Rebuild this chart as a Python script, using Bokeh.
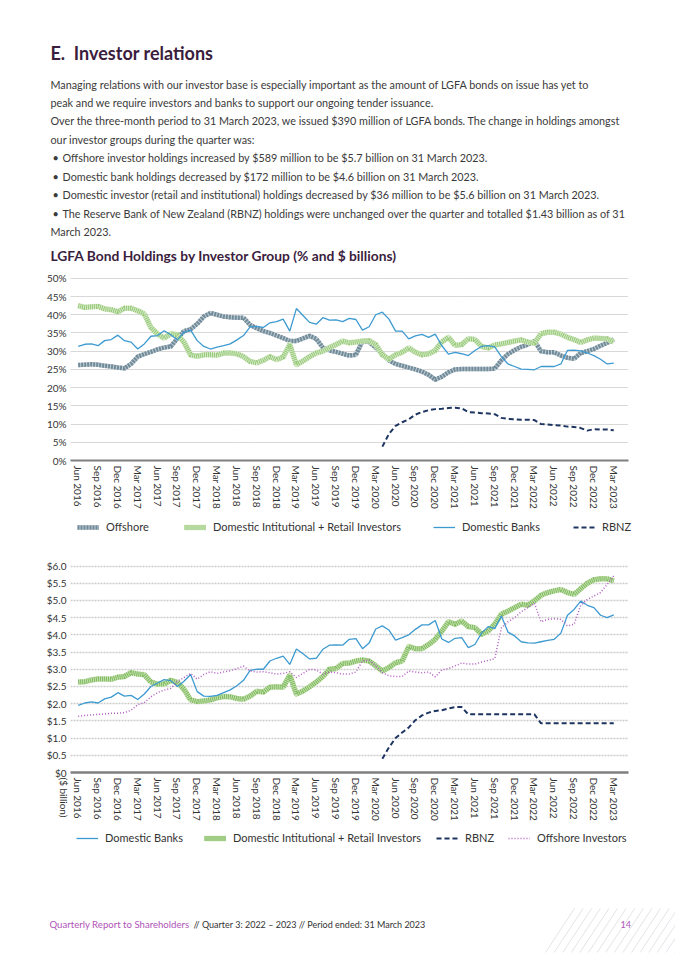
import math
from bokeh.plotting import figure
from bokeh.models import Range1d, FixedTicker, Legend, LegendItem, Plot
from bokeh.layouts import column
from bokeh.embed import file_html
from bokeh.resources import INLINE
from bokeh.core.properties import value

# ---------------- data ----------------
TICK_LABELS = ["Jun 2016", "Sep 2016", "Dec 2016", "Mar 2017", "Jun 2017", "Sep 2017", "Dec 2017",
               "Mar 2018", "Jun 2018", "Sep 2018", "Dec 2018", "Mar 2019", "Jun 2019", "Sep 2019",
               "Dec 2019", "Mar 2020", "Jun 2020", "Sep 2020", "Dec 2020", "Mar 2021", "Jun 2021",
               "Sep 2021", "Dec 2021", "Mar 2022", "Jun 2022", "Sep 2022", "Dec 2022", "Mar 2023"]
MONTHS = list(range(82))          # monthly index, 0 = Jun 2016 ... 81 = Mar 2023
RBNZ_MONTHS = list(range(46, 82))  # RBNZ holdings start Apr 2020

OFFSHORE_PCT = [26.2, 26.3, 26.4, 26.3, 26.0, 25.8, 25.5, 25.3, 26.5, 28.5,
                29.2, 29.8, 30.5, 31.0, 31.3, 33.5, 35.5, 36.0, 37.5, 39.5,
                40.5, 40.0, 39.5, 39.3, 39.2, 39.2, 37.2, 36.3, 35.5, 35.0,
                34.3, 33.6, 32.8, 32.8, 33.5, 34.2, 33.4, 31.0, 30.2, 29.8,
                29.3, 28.8, 29.0, 32.8, 32.5, 31.0, 29.3, 27.5, 26.5, 26.0,
                25.5, 25.0, 24.4, 23.5, 22.2, 23.0, 24.2, 25.0, 25.1, 25.1,
                25.1, 25.1, 25.1, 25.2, 27.5, 29.2, 30.3, 31.2, 31.8, 32.8,
                30.0, 29.7, 29.7, 28.8, 28.2, 27.9, 29.5, 30.0, 30.6, 31.5,
                32.3, 33.2]
DOMESTIC_INV_PCT = [42.5, 42.0, 42.2, 42.3, 41.6, 41.4, 40.8, 41.8, 41.8, 41.1,
                    40.2, 36.5, 34.7, 33.6, 34.8, 34.5, 32.5, 29.0, 28.6, 29.0,
                    29.0, 28.9, 29.5, 29.5, 29.3, 28.5, 27.2, 26.8, 27.5, 28.5,
                    27.7, 28.4, 31.8, 26.3, 27.3, 28.5, 29.5, 30.0, 31.0, 31.8,
                    32.8, 32.3, 32.5, 32.8, 32.9, 31.8, 29.0, 27.8, 29.0, 29.7,
                    30.9, 29.7, 29.0, 29.3, 30.2, 32.6, 33.8, 31.6, 31.8, 33.4,
                    33.2, 31.3, 30.9, 31.7, 32.0, 32.4, 32.8, 33.1, 32.5, 32.2,
                    34.8, 35.2, 35.2, 34.7, 33.8, 33.2, 32.4, 33.1, 33.6, 33.5,
                    33.4, 32.5]
BANKS_PCT = [31.3, 31.9, 32.0, 31.5, 32.9, 33.2, 34.4, 32.9, 32.5, 30.6,
             32.0, 34.1, 34.3, 35.6, 34.5, 33.1, 35.2, 35.8, 32.9, 31.3,
             30.6, 31.1, 31.5, 32.0, 33.1, 34.3, 36.7, 36.8, 36.5, 37.8,
             38.1, 38.8, 35.5, 41.7, 39.8, 37.9, 37.4, 39.2, 38.5, 38.6,
             38.1, 39.0, 38.7, 35.8, 36.7, 40.0, 40.7, 38.8, 35.5, 35.5,
             33.4, 34.2, 34.6, 33.8, 34.7, 31.5, 29.2, 29.7, 29.3, 28.8,
             30.2, 31.3, 31.5, 31.2, 28.5, 26.5, 25.8, 25.1, 25.0, 24.9,
             25.8, 25.8, 25.8, 26.5, 30.2, 30.3, 30.1, 29.5, 28.8, 27.8,
             26.5, 26.7]
RBNZ_PCT = [3.8, 7.3, 9.5, 10.5, 11.3, 12.6, 13.3, 13.8, 14.1, 14.2,
            14.4, 14.5, 14.3, 13.3, 13.2, 13.0, 12.9, 12.7, 11.7, 11.4,
            11.3, 11.2, 11.2, 11.1, 10.0, 9.9, 9.7, 9.6, 9.3, 9.2,
            8.9, 8.2, 8.6, 8.5, 8.5, 8.3]

BANKS_BN = [1.95, 2.02, 2.05, 2.02, 2.14, 2.19, 2.32, 2.22, 2.24, 2.12,
            2.28, 2.50, 2.60, 2.70, 2.67, 2.50, 2.65, 2.85, 2.35, 2.22,
            2.21, 2.24, 2.32, 2.40, 2.52, 2.68, 2.97, 3.00, 3.00, 3.24,
            3.32, 3.38, 3.14, 3.59, 3.45, 3.30, 3.32, 3.58, 3.70, 3.71,
            3.70, 3.87, 3.89, 3.60, 3.76, 4.17, 4.26, 4.14, 3.85, 3.92,
            4.00, 4.16, 4.29, 4.29, 4.42, 3.88, 3.78, 3.90, 3.92, 3.63,
            3.72, 4.05, 4.24, 4.18, 4.55, 4.08, 3.97, 3.80, 3.77, 3.76,
            3.80, 3.84, 3.87, 4.05, 4.57, 4.74, 4.98, 4.86, 4.79, 4.57,
            4.50, 4.58]
DOMESTIC_INV_BN = [2.63, 2.64, 2.69, 2.72, 2.72, 2.71, 2.77, 2.79, 2.90, 2.86,
                   2.84, 2.63, 2.57, 2.57, 2.68, 2.62, 2.42, 2.11, 2.06, 2.08,
                   2.11, 2.17, 2.21, 2.20, 2.15, 2.13, 2.22, 2.36, 2.34, 2.48,
                   2.49, 2.48, 2.83, 2.28, 2.37, 2.49, 2.63, 2.79, 3.00, 3.02,
                   3.17, 3.18, 3.24, 3.27, 3.24, 3.10, 2.95, 3.05, 3.19, 3.24,
                   3.66, 3.60, 3.60, 3.72, 3.87, 4.11, 4.38, 4.31, 4.40, 4.24,
                   4.21, 4.02, 4.11, 4.31, 4.60, 4.69, 4.79, 4.89, 4.86, 4.99,
                   5.15, 5.23, 5.28, 5.32, 5.23, 5.18, 5.34, 5.50, 5.60, 5.63,
                   5.63, 5.57]
OFFSHORE_BN = [1.63, 1.66, 1.67, 1.69, 1.70, 1.72, 1.72, 1.74, 1.81, 1.97,
               2.03, 2.20, 2.32, 2.40, 2.44, 2.65, 2.76, 2.88, 2.71, 2.85,
               2.93, 2.88, 2.92, 2.96, 3.02, 3.09, 2.95, 2.92, 2.93, 2.90,
               2.86, 2.88, 2.93, 2.76, 2.88, 3.00, 2.98, 2.86, 2.92, 2.90,
               2.86, 2.86, 2.92, 3.24, 3.27, 3.10, 2.90, 2.81, 2.79, 2.79,
               2.95, 2.92, 2.90, 2.92, 2.78, 2.98, 3.02, 3.10, 3.18, 3.15,
               3.15, 3.21, 3.26, 3.31, 4.20, 4.38, 4.50, 4.67, 4.79, 4.92,
               4.38, 4.45, 4.47, 4.45, 4.26, 4.31, 4.86, 5.03, 5.13, 5.23,
               5.47, 5.71]
RBNZ_BN = [0.40, 0.73, 1.00, 1.16, 1.31, 1.52, 1.66, 1.74, 1.79, 1.81,
           1.86, 1.90, 1.90, 1.69, 1.69, 1.69, 1.69, 1.69, 1.69, 1.69,
           1.69, 1.69, 1.69, 1.69, 1.43, 1.43, 1.43, 1.43, 1.43, 1.43,
           1.43, 1.43, 1.43, 1.43, 1.43, 1.43]

PCT_TICKS = [0, 5, 10, 15, 20, 25, 30, 35, 40, 45, 50]
PCT_LABELS = ["0%", "5%", "10%", "15%", "20%", "25%", "30%", "35%", "40%", "45%", "50%"]
BN_TICKS = [0, 0.5, 1.0, 1.5, 2.0, 2.5, 3.0, 3.5, 4.0, 4.5, 5.0, 5.5, 6.0]
BN_LABELS = ["$0", "$0.5", "$1.0", "$1.5", "$2.0", "$2.5", "$3.0", "$3.5", "$4.0", "$4.5",
             "$5.0", "$5.5", "$6.0"]
BN_AXIS_NOTE = "($ billion)"

HEADING = "E.\u00a0\u00a0Investor relations"
PARAGRAPH = [
    ("", "Managing relations with our investor base is especially important as the amount of LGFA bonds on issue has yet to"),
    ("", "peak and we require investors and banks to support our ongoing tender issuance."),
    ("", "Over the three-month period to 31 March 2023, we issued $390 million of LGFA bonds. The change in holdings amongst"),
    ("", "our investor groups during the quarter was:"),
    ("\u2022", "Offshore investor holdings increased by $589 million to be $5.7 billion on 31 March 2023."),
    ("\u2022", "Domestic bank holdings decreased by $172 million to be $4.6 billion on 31 March 2023."),
    ("\u2022", "Domestic investor (retail and institutional) holdings decreased by $36 million to be $5.6 billion on 31 March 2023."),
    ("\u2022", "The Reserve Bank of New Zealand (RBNZ) holdings were unchanged over the quarter and totalled $1.43 billion as of 31"),
    ("", "March 2023."),
]
CHART_TITLE = "LGFA Bond Holdings by Investor Group (% and $ billions)"
FOOTER_A = "Quarterly Report to Shareholders"
FOOTER_B = "// Quarter 3: 2022 \u2013 2023 // Period ended: 31 March 2023"
PAGE_NO = "14"

# ---------------- style ----------------
FONT = "Lato"
DARK = "#3b1d3d"
BODY = "#3a3a3a"
PURPLE = "#b054b8"
W = 675
HAS_FRAME_ALIGN = "frame_align" in Plot.properties()
TICK_POS = list(range(0, 82, 3))
NAN = float("nan")

OFF_STYLE = [dict(line_color="#bfccd4", line_width=4.5, line_join="round"),
             dict(line_color="#718b99", line_width=4.5, line_dash="2 1")]
DOM1_STYLE = [dict(line_color="#d6ebc8", line_width=5.5, line_join="round"),
              dict(line_color="#95c777", line_width=5, line_dash="1 1")]
DOM2_STYLE = [dict(line_color="#c6e2b2", line_width=5.5, line_join="round"),
              dict(line_color="#7db85c", line_width=5, line_dash="1 1")]
BANK_STYLE = [dict(line_color="#3d9ad1", line_width=1.3)]
RBNZ_STYLE = [dict(line_color="#1d3560", line_width=2, line_dash="5 3")]
OFFINV_STYLE = [dict(line_color="#b35cc2", line_width=1.5, line_dash="1 2")]


def plain_fig(h, inverted=True):
    f = figure(width=W, height=h, x_range=Range1d(0, W),
               y_range=Range1d(h, 0) if inverted else Range1d(0, h),
               x_axis_type=None, y_axis_type=None, output_backend="svg",
               toolbar_location=None, min_border=0)
    if HAS_FRAME_ALIGN:
        f.frame_align = False
    f.grid.visible = False
    f.outline_line_color = None
    return f


def chart_fig(h, top, frame_h, y_end):
    f = figure(width=W, height=h, x_range=Range1d(-1.165, 83.23), y_range=Range1d(0, y_end),
               output_backend="svg", toolbar_location=None,
               min_border_left=70, min_border_right=47, min_border_top=top,
               min_border_bottom=h - top - frame_h)
    if HAS_FRAME_ALIGN:
        f.frame_align = False
    f.outline_line_color = None
    f.xgrid.visible = False
    f.xaxis.ticker = FixedTicker(ticks=TICK_POS)
    f.xaxis.major_label_overrides = {t: l for t, l in zip(TICK_POS, TICK_LABELS)}
    f.xaxis.major_label_orientation = -math.pi / 2
    f.xaxis.major_tick_line_color = None
    f.xaxis.minor_tick_line_color = None
    f.xaxis.major_tick_out = 0
    f.xaxis.minor_tick_out = 0
    f.xaxis.axis_line_color = "#7f7f7f"
    f.xaxis.axis_line_width = 2
    f.xaxis.major_label_standoff = 5
    f.yaxis.axis_line_color = None
    f.yaxis.major_tick_line_color = None
    f.yaxis.minor_tick_line_color = None
    f.yaxis.major_tick_out = 0
    f.yaxis.minor_tick_out = 0
    f.yaxis.major_label_standoff = 4
    for ax in (f.xaxis, f.yaxis):
        ax.major_label_text_font = FONT
        ax.major_label_text_color = "#333333"
    f.xaxis.major_label_text_font_size = "10px"
    f.yaxis.major_label_text_font_size = "10px"
    return f


def draw(f, x, y, styles):
    return [f.line(x, y, **s) for s in styles]


def legend_strip(h, items, vy):
    f = plain_fig(h, inverted=False)
    for label, styles, vx in items:
        # legend-only renderers: a single undefined point, so nothing is drawn in the strip
        rs = [f.line([NAN], [NAN], **s) for s in styles]
        lg = Legend(items=[LegendItem(label=label, renderers=rs)], location=(vx, vy),
                    padding=0, margin=0, border_line_color=None, background_fill_alpha=0,
                    glyph_width=22, glyph_height=12, label_height=12, label_standoff=7,
                    label_text_font=FONT, label_text_font_size="11px",
                    label_text_color="#333333")
        f.add_layout(lg, "center")
    return f


# ---------------- header ----------------
header = plain_fig(265)
header.text(x=[50], y=[52], text=[HEADING], text_font=value(FONT), text_font_style="bold",
            text_font_size="18px", text_color=DARK, text_baseline="middle")
line_y = [83.5, 101.5, 120, 138.5, 157, 175.5, 194, 212.5, 230.5]
bx, by, tx, ty, tt = [], [], [], [], []
for (bullet, txt), yy in zip(PARAGRAPH, line_y):
    if bullet:
        bx.append(52); by.append(yy)
        tx.append(62)
    else:
        tx.append(50)
    ty.append(yy); tt.append(txt)
header.text(x=bx, y=by, text=["\u2022"] * len(bx), text_font=value(FONT), text_font_size="10.8px",
            text_color=BODY, text_baseline="middle")
header.text(x=tx, y=ty, text=tt, text_font=value(FONT), text_font_size="10.8px",
            text_color=BODY, text_baseline="middle")
header.text(x=[50], y=[255], text=[CHART_TITLE], text_font=value(FONT),
            text_font_style="bold", text_font_size="13.8px", text_color=DARK, text_baseline="middle")

# ---------------- chart 1 (%) ----------------
c1 = chart_fig(251, 11, 184, 50.5)
c1.yaxis.ticker = FixedTicker(ticks=PCT_TICKS)
c1.yaxis.major_label_overrides = {t: l for t, l in zip(PCT_TICKS, PCT_LABELS)}
c1.ygrid.ticker = FixedTicker(ticks=PCT_TICKS)
c1.ygrid.grid_line_color = "#b0b0b0"
c1.ygrid.grid_line_dash = "1 1"
c1.ygrid.grid_line_width = 1

draw(c1, MONTHS, OFFSHORE_PCT, OFF_STYLE)
draw(c1, MONTHS, DOMESTIC_INV_PCT, DOM1_STYLE)
draw(c1, MONTHS, BANKS_PCT, BANK_STYLE)
draw(c1, RBNZ_MONTHS, RBNZ_PCT, RBNZ_STYLE)

leg1 = legend_strip(32, [("Offshore", OFF_STYLE, 77),
                         ("Domestic Intitutional + Retail Investors", DOM1_STYLE, 184),
                         ("Domestic Banks", BANK_STYLE, 433),
                         ("RBNZ", RBNZ_STYLE, 573)], 15)

# ---------------- chart 2 ($ billions) ----------------
c2 = chart_fig(280, 16, 208, 6.045)
c2.yaxis.ticker = FixedTicker(ticks=BN_TICKS)
c2.yaxis.major_label_overrides = {t: l for t, l in zip(BN_TICKS, BN_LABELS)}
c2.ygrid.ticker = FixedTicker(ticks=BN_TICKS)
c2.ygrid.grid_line_color = "#cccccc"
c2.ygrid.grid_line_dash = "2 1"
c2.ygrid.grid_line_width = 1.6
c2.xaxis.axis_line_width = 2.5
labels2 = {t: l for t, l in zip(TICK_POS, TICK_LABELS)}
labels2[0] = "\n" + TICK_LABELS[0] + "\n" + BN_AXIS_NOTE
c2.xaxis.major_label_overrides = labels2

draw(c2, MONTHS, DOMESTIC_INV_BN, DOM2_STYLE)
draw(c2, MONTHS, BANKS_BN, BANK_STYLE)
draw(c2, MONTHS, OFFSHORE_BN, OFFINV_STYLE)
draw(c2, RBNZ_MONTHS, RBNZ_BN, RBNZ_STYLE)

leg2 = legend_strip(32, [("Domestic Banks", BANK_STYLE, 76),
                         ("Domestic Intitutional + Retail Investors", DOM2_STYLE, 204),
                         ("RBNZ", RBNZ_STYLE, 436),
                         ("Offshore Investors", OFFINV_STYLE, 508)], 16)

# ---------------- footer ----------------
footer = plain_fig(95)
fy = 924 - 860
sx0, sx1, sy0, sy1 = [], [], [], []
for k in range(16):
    x0 = 545 + 8.6 * k
    sx0.append(x0); sy0.append(92)
    sx1.append(x0 + 29); sy1.append(48)
footer.segment(x0=sx0, y0=sy0, x1=sx1, y1=sy1, line_color="#e4e4ea", line_width=1)
footer.text(x=[49], y=[fy], text=[FOOTER_A], text_font=value(FONT), text_font_size="9.6px",
            text_color=PURPLE, text_baseline="middle")
footer.text(x=[193], y=[fy], text=[FOOTER_B], text_font=value(FONT), text_font_size="9px",
            text_color="#333333", text_baseline="middle")
footer.text(x=[620], y=[fy], text=[PAGE_NO], text_font=value(FONT), text_font_size="9px",
            text_color=PURPLE, text_baseline="middle")

page = column(header, c1, leg1, c2, leg2, footer, spacing=0)
open("out.html", "w").write(file_html(page, INLINE))
